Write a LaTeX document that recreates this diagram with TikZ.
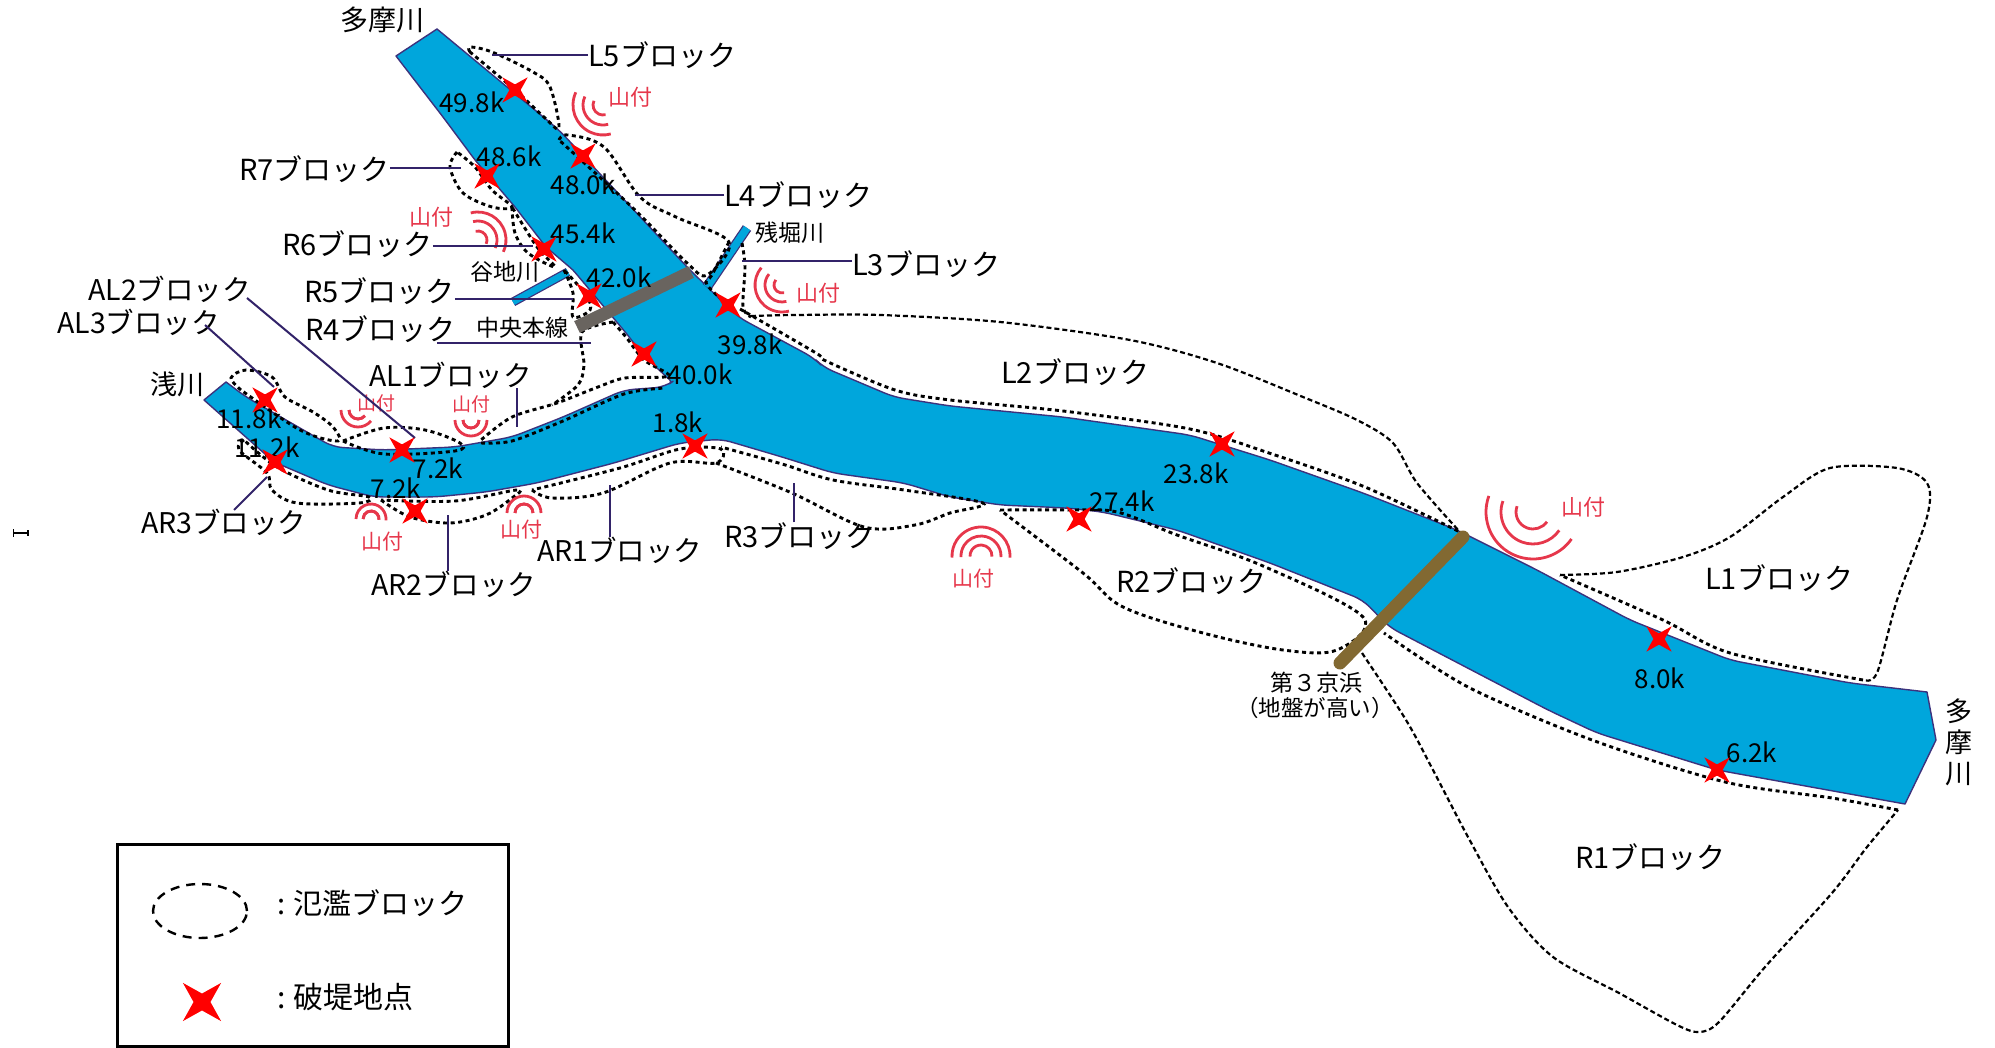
\documentclass[tikz,border=0pt]{standalone}
\usepackage{fontspec}
\setmainfont{Noto Sans CJK JP}
\usetikzlibrary{shapes.geometric}
\definecolor{riverblue}{RGB}{0,166,220}
\definecolor{riveredge}{RGB}{60,50,125}
\definecolor{leadercol}{RGB}{50,35,105}
\definecolor{yamared}{RGB}{230,55,75}
\definecolor{railgray}{RGB}{105,100,95}
\definecolor{roadbrown}{RGB}{130,105,50}
\newcommand{\fsz}[1]{\fontsize{#1}{#1}\selectfont}
\newcommand{\yamaarcs}[7]{%
  \foreach \rr in {#5,#6,#7}{%
    \draw[yamaline] (#1,#2) ++(#3:\rr pt) arc[start angle=#3,end angle=#4,radius=\rr pt];}}
\tikzset{
  river/.style={fill=riverblue,draw=riveredge,line width=1.4pt,line join=round},
  blockline/.style={draw=black,line width=2.9pt,dash pattern=on 4pt off 3.5pt},
  fineblock/.style={draw=black,line width=2.2pt,dash pattern=on 5pt off 3pt},
  leader/.style={draw=leadercol,line width=2pt},
  blocklabel/.style={inner sep=0pt,anchor=west,font=\fsz{29}},
  kmlabel/.style={inner sep=0pt,font=\fsz{26}},
  smalllabel/.style={inner sep=0pt,font=\fsz{23}},
  yamalabel/.style={inner sep=0pt,text=yamared,font=\fsz{22}},
  yamaline/.style={draw=yamared,line width=2.8pt},
  breach/.style={star,star points=4,star point ratio=3.2,minimum size=36pt,inner sep=0pt,fill=red,rotate=45},
}
\begin{document}
\begin{tikzpicture}[x=1pt,y=-1pt]
\useasboundingbox (0,0) rectangle (1995,1048);
% river
\draw[river]
  (437,29) [rounded corners=10pt] -- (559,130) -- (687,267) -- (738,317) -- (814,358) -- (823,367)
  -- (894,397) -- (950,406) -- (1063,417) -- (1190,435) -- (1270,460) -- (1363,493) -- (1457,530)
  -- (1537,570) -- (1630,620) -- (1730,660) -- (1850,683) [sharp corners] -- (1927,692) -- (1936,740) -- (1905,804)
  [rounded corners=10pt] -- (1717,770) -- (1597,733) -- (1548,710) -- (1389,627) -- (1363,600) -- (1270,563)
  -- (1177,530) -- (1103,512) -- (1067,508) -- (1000,505) -- (950,497) -- (904,483) -- (833,473)
  -- (782,457) -- (721,439) -- (680,443) -- (614,463) -- (537,483) -- (486,492) -- (435,497)
  -- (374,497) -- (328,485) -- (274,462) [sharp corners] -- (204,400) -- (226,382) [rounded corners=10pt]
  -- (246,397) -- (333,447) -- (384,450) -- (455,447) -- (512,437) -- (563,417) -- (624,390)
  -- (665,387) [rounded corners=3pt] -- (672,382) -- (644,356) -- (626,333) -- (573,270) -- (546,247)
  -- (515,207) -- (475,160) -- (443,117) [sharp corners] -- (396,56) -- cycle;
% tributaries
\coordinate (zanA) at (747,228); \coordinate (zanB) at (707,287);
\coordinate (yaA) at (568,272); \coordinate (yaB) at (513,302);
\draw[riveredge,line width=10pt] (zanA) -- (zanB);
\draw[riverblue,line width=7.5pt] (zanA) -- (zanB);
\draw[riveredge,line width=9pt] (yaA) -- (yaB);
\draw[riverblue,line width=6.5pt] (yaA) -- (yaB);
% flood blocks
\draw[blockline] plot[smooth,tension=.55] coordinates {(470,52) (470,47) (492,52) (533,72) (550,87) (559,128) (545,118) (515,90) (470,52)};
\draw[blockline] plot[smooth,tension=.55] coordinates {(559,140) (568,135) (604,147) (640,197) (676,217) (729,242) (707,275) (687,263) (635,210) (559,140)};
\draw[blockline] plot[smooth,tension=.55] coordinates {(457,152) (450,167) (463,193) (492,207) (512,207) (492,190) (475,167) (457,152)};
\draw[blockline] plot[smooth,tension=.55] coordinates {(512,207) (515,233) (528,253) (555,267) (537,247) (512,207)};
\draw[blockline] plot[smooth,tension=.55] coordinates {(564,270) (573,293) (573,317) (590,310) (586,295) (564,270)};
\draw[blockline] plot[smooth,tension=.5] coordinates {(613,322) (582,332) (584,365) (578,385) (552,405)};
\draw[blockline] plot[smooth,tension=.5] coordinates {(613,322) (626,337) (644,360) (669,376) (625,378) (598,387) (557,403) (512,417) (481,440)};
\draw[blockline] plot[smooth,tension=.5] coordinates {(481,443) (512,441) (563,421) (624,394) (665,388)};
\draw[blockline] plot[smooth,tension=.55] coordinates {(343,441) (384,428) (425,430) (460,443) (455,451) (384,454) (343,441)};
\draw[blockline] plot[smooth,tension=.55] coordinates {(241,390) (231,378) (246,370) (272,377) (285,397) (313,412) (333,427) (338,441) (300,430) (241,390)};
\draw[blockline] plot[smooth,tension=.55] coordinates {(244,440) (239,450) (267,473) (272,490) (297,503) (359,503) (369,497) (328,490) (277,467) (244,440)};
\draw[blockline] plot[smooth,tension=.55] coordinates {(381,500) (410,517) (450,523) (486,515) (512,498) (517,490) (455,501) (381,500)};
\draw[blockline] plot[smooth,tension=.55] coordinates {(532,490) (552,498) (603,493) (670,463) (716,463) (721,449) (680,449) (620,468) (532,490)};
\draw[blockline] plot[smooth,tension=.55] coordinates {(716,463) (792,493) (864,527) (915,525) (950,513) (983,503) (904,490) (833,480) (782,464) (721,447)};
\draw[blockline] plot[smooth,tension=.55] coordinates {(1000,510) (1067,510) (1117,512) (1177,535) (1263,566) (1363,617) (1337,650) (1283,650) (1203,633) (1123,607) (1083,573) (1000,510)};
\draw[blockline] plot[smooth,tension=.5] coordinates {(742,243) (745,267) (743,307) (751,317)};
\draw[fineblock] plot[smooth,tension=.5] coordinates {(751,316) (795,315) (880,315) (1000,322) (1130,340) (1217,363) (1303,397) (1357,420) (1393,443) (1417,483) (1460,532)};
\draw[blockline] plot[smooth,tension=.5] coordinates {(740,309) (816,353) (826,361) (895,390) (950,400) (1063,411) (1190,429) (1272,454) (1365,487) (1460,532)};
\draw[blockline] plot[smooth,tension=.5] coordinates {(729,242) (712,275) (707,285) (736,312)};
\draw[fineblock] plot[smooth,tension=.5] coordinates {(1560,575) (1617,572) (1683,557) (1730,537) (1783,497) (1830,468) (1897,468) (1927,483) (1927,517) (1897,600) (1877,673) (1863,680)};
\draw[blockline] plot[smooth,tension=.5] coordinates {(1863,680) (1730,653) (1663,620) (1560,575)};
\draw[fineblock] plot[smooth,tension=.5] coordinates {(1362,653) (1406,720) (1433,770) (1468,837) (1508,907) (1553,957) (1619,993) (1677,1025) (1699,1032) (1719,1022) (1765,967) (1832,893) (1867,847) (1898,810)};
\draw[blockline] plot[smooth,tension=.5] coordinates {(1898,810) (1832,798) (1725,782) (1592,740) (1468,687) (1384,633)};
% bridges
\coordinate (railA) at (577,327); \coordinate (railB) at (691,272);
\coordinate (roadA) at (1340,663); \coordinate (roadB) at (1463,537);
\draw[railgray,line width=13pt] (railA) -- (railB);
\draw[roadbrown,line width=13pt,line cap=round] (roadA) -- (roadB);
% yama arcs
\yamaarcs{603}{105}{155}{285}{10}{20}{30}
\yamaarcs{478}{240}{105}{-25}{9}{19}{28}
\yamaarcs{782}{285}{140}{285}{8}{17}{27}
\yamaarcs{1533}{512}{160}{325}{17}{32}{47}
\yamaarcs{981}{556}{-3}{183}{11}{20}{29}
\yamaarcs{524}{513}{0}{180}{9}{9}{17}
\yamaarcs{371}{519}{-5}{180}{8}{8}{15}
\yamaarcs{358}{410}{180}{320}{9}{9}{17}
\yamaarcs{471}{420}{180}{360}{8}{8}{16}
\node[yamalabel] (ya1) at (630,97) {山付};
\node[yamalabel] (ya2) at (431,217) {山付};
\node[yamalabel] (ya3) at (818,293) {山付};
\node[yamalabel] (ya4) at (1583,507) {山付};
\node[yamalabel,font=\fsz{21}] (ya5) at (973,579) {山付};
\node[yamalabel,font=\fsz{21}] (ya6) at (521,530) {山付};
\node[yamalabel,font=\fsz{21}] (ya7) at (382,542) {山付};
\node[yamalabel,font=\fsz{19}] (ya8) at (376,403) {山付};
\node[yamalabel,font=\fsz{19}] (ya9) at (471,404) {山付};
% block labels
\node[blocklabel] (lbL5) at (588,55) {L5ブロック};
\node[blocklabel] (lbL4) at (724,195) {L4ブロック};
\node[blocklabel] (lbL3) at (852,264) {L3ブロック};
\node[blocklabel] (lbL2) at (1001,372) {L2ブロック};
\node[blocklabel] (lbL1) at (1705,578) {L1ブロック};
\node[blocklabel] (lbR7) at (239,169) {R7ブロック};
\node[blocklabel] (lbR6) at (282,244) {R6ブロック};
\node[blocklabel] (lbR5) at (304,291) {R5ブロック};
\node[blocklabel] (lbR4) at (305,329) {R4ブロック};
\node[blocklabel] (lbR3) at (724,536) {R3ブロック};
\node[blocklabel] (lbR2) at (1116,581) {R2ブロック};
\node[blocklabel] (lbR1) at (1575,857) {R1ブロック};
\node[blocklabel,font=\fsz{28.5}] (lbAL2) at (88,289) {AL2ブロック};
\node[blocklabel,font=\fsz{28.5}] (lbAL3) at (57,322) {AL3ブロック};
\node[blocklabel,font=\fsz{28.5}] (lbAL1) at (369,375) {AL1ブロック};
\node[blocklabel,font=\fsz{28.5}] (lbAR3) at (141,522) {AR3ブロック};
\node[blocklabel,font=\fsz{28.5}] (lbAR2) at (371,584) {AR2ブロック};
\node[blocklabel,font=\fsz{28.5}] (lbAR1) at (537,550) {AR1ブロック};
\node[inner sep=0pt,font=\fsz{28}] (tama1) at (382,20) {多摩川};
\node[inner sep=0pt,font=\fontsize{27}{31}\selectfont,align=center] (tama2) at (1959,742) {多\\摩\\川};
\node[inner sep=0pt,font=\fsz{27}] (asa) at (177,384) {浅川};
\node[smalllabel] (zanbori) at (790,233) {残堀川};
\node[smalllabel] (yachi) at (505,272) {谷地川};
\node[smalllabel] (chuo) at (522,328) {中央本線};
\node[smalllabel] (kei) at (1316,683) {第３京浜};
\node[smalllabel,font=\fsz{22.5}] (jiban) at (1315,708) {（地盤が高い）};
% km labels
\node[kmlabel] (k498) at (472,102) {49.8k};
\node[kmlabel] (k486) at (509,156) {48.6k};
\node[kmlabel] (k480) at (583,184) {48.0k};
\node[kmlabel] (k454) at (583,233) {45.4k};
\node[kmlabel] (k420) at (619,277) {42.0k};
\node[kmlabel] (k398) at (750,344) {39.8k};
\node[kmlabel] (k400) at (700,374) {40.0k};
\node[kmlabel] (k118) at (249,418) {11.8k};
\node[kmlabel] (k112) at (267,447) {11.2k};
\node[kmlabel] (k72a) at (438,468) {7.2k};
\node[kmlabel] (k72b) at (396,488) {7.2k};
\node[kmlabel] (k18) at (678,422) {1.8k};
\node[kmlabel] (k238) at (1196,473) {23.8k};
\node[kmlabel] (k274) at (1122,501) {27.4k};
\node[kmlabel] (k80) at (1660,678) {8.0k};
\node[kmlabel] (k62) at (1752,752) {6.2k};
% leaders
\coordinate (tL5) at (492,55); \coordinate (tL4) at (635,195); \coordinate (tL3) at (742,261);
\coordinate (tR7) at (461,168); \coordinate (tR6) at (533,246); \coordinate (tR5) at (573,299); \coordinate (tR4) at (591,343);
\coordinate (tAL2) at (415,438); \coordinate (tAL3) at (274,387); \coordinate (tAL1) at (517,427);
\coordinate (tAR3) at (267,477); \coordinate (tAR2) at (448,515); \coordinate (tAR1) at (610,485); \coordinate (tR3) at (794,483);
\draw[leader] (lbL5.west |- tL5) -- (tL5);
\draw[leader] (lbL4.west |- tL4) -- (tL4);
\draw[leader] (lbL3.west |- tL3) -- (tL3);
\draw[leader] (lbR7.east |- tR7) -- (tR7);
\draw[leader] (lbR6.east |- tR6) -- (tR6);
\draw[leader] (lbR5.east |- tR5) -- (tR5);
\draw[leader] (lbR4.west |- tR4) ++(132,0) -- (tR4);
\draw[leader] (247,298) -- (tAL2);
\draw[leader] (205,325) -- (tAL3);
\draw[leader] (lbAL1.south -| tAL1) -- (tAL1);
\draw[leader] (234,510) -- (tAR3);
\draw[leader] (lbAR2.north -| tAR2) -- (tAR2);
\draw[leader] (lbAR1.north -| tAR1) -- (tAR1);
\draw[leader] (lbR3.north -| tR3) -- (tR3);
% breach points
\foreach \nm/\px/\py in {b1/515/90,b2/583/156,b3/487/176,b4/544/249,b5/589/296,b6/644/354,b7/728/305,b8/265/400,b9/275/462,b10/402/450,b11/415/511,b12/695/446,b13/1222/444,b14/1079/519,b15/1659/639,b16/1717/770}
  \node[breach] (\nm) at (\px,\py) {};
% stray mark
\coordinate (mA) at (14,533); \coordinate (mB) at (27,533);
\draw[black,line width=2pt] (mA) -- (mB);
\draw[black,line width=1.2pt] (13.5,529) -- (13.5,537) (28,530) -- (28,536);
% legend
\coordinate (lgA) at (117,844); \coordinate (lgB) at (508,1046);
\draw[black,line width=3pt] (lgA) rectangle (lgB);
\node[draw=black,line width=2.4pt,dash pattern=on 9pt off 7pt,ellipse,minimum width=94pt,minimum height=54pt,inner sep=0pt] (lgE) at (200,911) {};
\node[breach,minimum size=54pt] (lgX) at (202,1002) {};
\node[inner sep=0pt,anchor=west,font=\fsz{29}] (lgT1) at (277,903) {:\hspace{8pt}氾濫ブロック};
\node[inner sep=0pt,anchor=west,font=\fsz{30}] (lgT2) at (277,997) {:\hspace{8pt}破堤地点};
\end{tikzpicture}
\end{document}
